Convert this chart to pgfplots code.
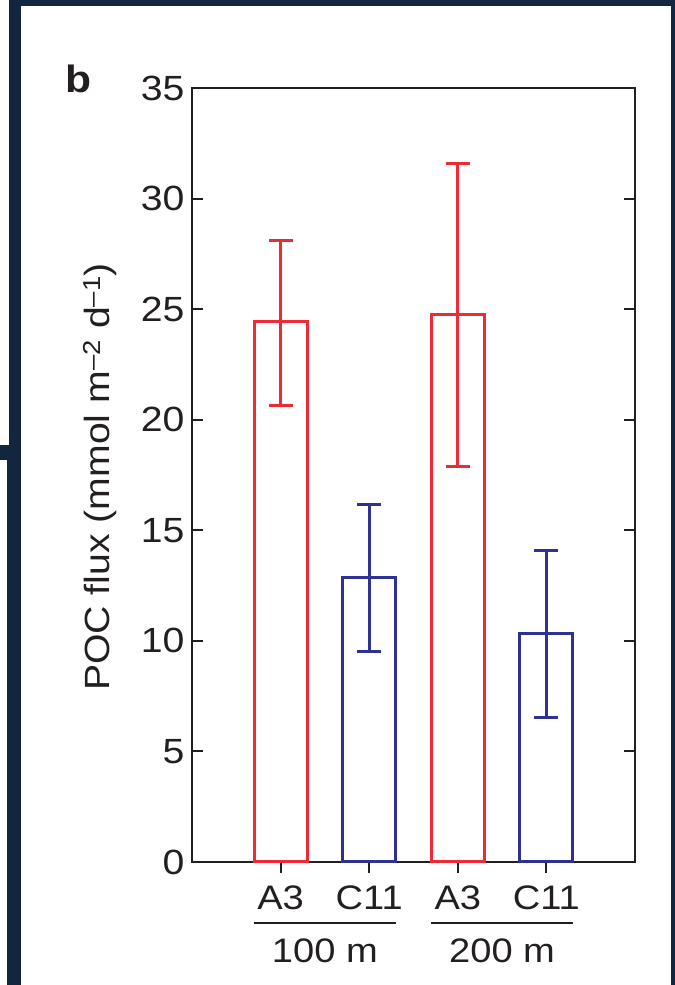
\documentclass[border=0pt]{standalone}
\usepackage{fontspec}
\setmainfont{Liberation Sans}[FakeStretch=1.12]
\usepackage{pgfplots}
\usepackage{pgfplotstable}
\pgfplotsset{compat=1.18}
\definecolor{panelframe}{HTML}{12263F}
\definecolor{pocred}{HTML}{EE2A35}
\definecolor{pocblue}{HTML}{2E3192}
\definecolor{ink}{HTML}{231F20}

% POC flux (mmol m^-2 d^-1) with asymmetric error bars
\pgfplotstableread{
x y ep em
1 24.43 3.66 3.81
3 24.74 6.86 6.84
}\redtab
\pgfplotstableread{
x y ep em
2 12.88 3.27 3.34
4 10.31 3.77 3.78
}\bluetab

\newcommand{\labfont}{\fontsize{34bp}{40bp}\selectfont}
\newcommand{\yfont}{\fontsize{35bp}{42bp}\selectfont}

\begin{document}
\begin{tikzpicture}
\path[use as bounding box] (0,0) rectangle (675bp,985bp);
% panel frame
\fill[panelframe] (9bp,979bp) rectangle (675bp,985bp);
\fill[panelframe] (9bp,525bp) rectangle (21bp,985bp);
\fill[panelframe] (0bp,525bp) rectangle (21bp,540bp);
\fill[panelframe] (7bp,0bp) rectangle (21bp,540bp);
\fill[panelframe] (670.5bp,0bp) rectangle (675bp,985bp);

\node[anchor=base west, inner sep=0pt, font=\fontsize{38bp}{44bp}\selectfont\bfseries, text=ink] at (65bp,892bp) {b};
\node[rotate=90, font=\yfont, text=ink] at (100bp,508bp)
  {POC flux (mmol m\textsuperscript{–2} d\textsuperscript{–1})};

\begin{axis}[
  at={(192bp,123bp)}, anchor=south west,
  scale only axis, width=443bp, height=774bp,
  xmin=0, xmax=5, ymin=0, ymax=35,
  ytick={0,5,...,35},
  xtick={1,2,3,4}, xticklabels={A3,C11,A3,C11},
  xtick pos=bottom, ytick pos=both,
  xtick align=outside, ytick align=inside,
  major tick length=11bp,
  axis line style={ink, line width=2bp},
  every tick/.style={ink, line width=2bp},
  tick label style={font=\labfont, text=ink},
  yticklabel style={font=\yfont, xshift=-4bp},
  xticklabel style={yshift=-9bp},
  /pgf/number format/assume math mode=true,
  clip=false,
  ybar, bar width=0.6,
]
\addplot[bar shift=0pt, draw=pocred, fill=none, line width=3bp,
  error bars/.cd, y dir=both, y explicit,
  error bar style={line width=3bp, pocred},
  error mark options={rotate=90, mark size=12bp, line width=3bp, pocred}]
  table[x=x, y=y, y error plus=ep, y error minus=em] {\redtab};
\addplot[bar shift=0pt, draw=pocblue, fill=none, line width=3bp,
  error bars/.cd, y dir=both, y explicit,
  error bar style={line width=3bp, pocblue},
  error mark options={rotate=90, mark size=12bp, line width=3bp, pocblue}]
  table[x=x, y=y, y error plus=ep, y error minus=em] {\bluetab};

% depth groups under the station labels
\draw[ink, line width=2bp] ([yshift=-61bp]axis cs:0.7,0) -- ([yshift=-61bp]axis cs:2.3,0);
\draw[ink, line width=2bp] ([yshift=-61bp]axis cs:2.7,0) -- ([yshift=-61bp]axis cs:4.3,0);
\node[anchor=base, font=\labfont, text=ink] at ([yshift=-101bp]axis cs:1.5,0) {100 m};
\node[anchor=base, font=\labfont, text=ink] at ([yshift=-101bp]axis cs:3.5,0) {200 m};
\end{axis}
\end{tikzpicture}
\end{document}
